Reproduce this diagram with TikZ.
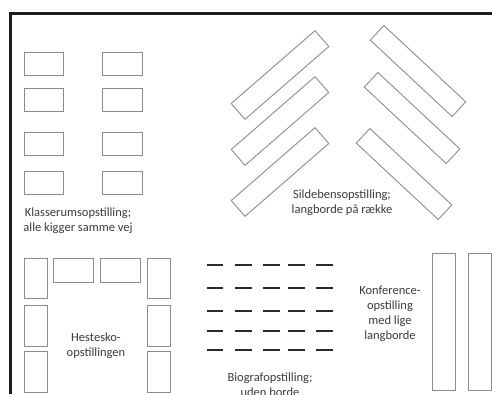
\documentclass[tikz,border=0pt]{standalone}
\usepackage{fontspec}
\setmainfont{Carlito}
\definecolor{tablegray}{HTML}{8C8C8C}
\definecolor{textgray}{HTML}{3A3A3A}
\definecolor{seatgray}{HTML}{2B2B2B}
\definecolor{framegray}{HTML}{1C1C1C}
\begin{document}
\begin{tikzpicture}[x=1pt,y=-1pt,
  tbl/.style={draw=tablegray, line width=0.9pt, fill=white, inner sep=0pt, outer sep=0pt},
  lbl/.style={text=textgray, align=center, font=\fontsize{12.5}{15}\selectfont, inner sep=0pt},
  seat/.style={draw=seatgray, line width=2.6pt},
  framebar/.style={draw=framegray, line width=3pt}]
\useasboundingbox (0,0) rectangle (492,394);
% frame
\coordinate (ftl) at (10.5,13.5);
\coordinate (ftr) at (492,13.5);
\coordinate (fbl) at (10.5,394);
\draw[framebar] (ftr) -- (ftl) -- (fbl);
% Klasserum
\foreach \r/\y in {1/63.5,2/100,3/143.5,4/182.5}{
  \node[tbl, minimum width=39pt, minimum height=23pt] (ka\r) at (43.5,\y) {};
  \node[tbl, minimum width=40pt, minimum height=23pt] (kb\r) at (122,\y) {};
}
\node[lbl] (klabel) at (78,221) {Klasserumsopstilling;\\alle kigger samme vej};
% Sildeben
\foreach \r/\y in {1/75,2/121,3/172}{
  \node[tbl, minimum width=111pt, minimum height=21pt, rotate=41] (sl\r) at (280,\y) {};
}
\node[tbl, minimum width=112pt, minimum height=20pt, rotate=-43] (sr1) at (418,71) {};
\node[tbl, minimum width=112pt, minimum height=20pt, rotate=-43] (sr2) at (412,118) {};
\node[tbl, minimum width=112pt, minimum height=20pt, rotate=-43] (sr3) at (404,174) {};
\node[lbl] (slabel) at (342,203) {Sildebensopstilling;\\langborde på række};
% Hestesko
\foreach \r/\y/\h in {1/278/40,2/325.5/41,3/371.5/41}{
  \node[tbl, minimum width=23pt, minimum height=\h pt] (hl\r) at (35.5,\y) {};
  \node[tbl, minimum width=23pt, minimum height=\h pt] (hr\r) at (158.5,\y) {};
}
\node[tbl, minimum width=40pt, minimum height=24pt] (ht1) at (73,270) {};
\node[tbl, minimum width=40pt, minimum height=24pt] (ht2) at (120,270) {};
\node[lbl] (hlabel) at (96,346) {Hestesko-\\opstillingen};
% Biograf
\foreach \y in {265,288,311,331,350}{
  \foreach \xa/\xb in {207/223,235/252,263/280,288/305,316/333}{
    \draw[seat] (\xa,\y) -- (\xb,\y);
  }
}
\node[lbl] (blabel) at (270,385) {Biografopstilling;\\uden borde};
% Konference
\node[tbl, minimum width=23pt, minimum height=137pt] (kf1) at (443.5,321.5) {};
\node[tbl, minimum width=23pt, minimum height=137pt] (kf2) at (479.5,321.5) {};
\node[lbl] (kflabel) at (390,314) {Konference-\\opstilling\\med lige\\langborde};
\end{tikzpicture}
\end{document}
